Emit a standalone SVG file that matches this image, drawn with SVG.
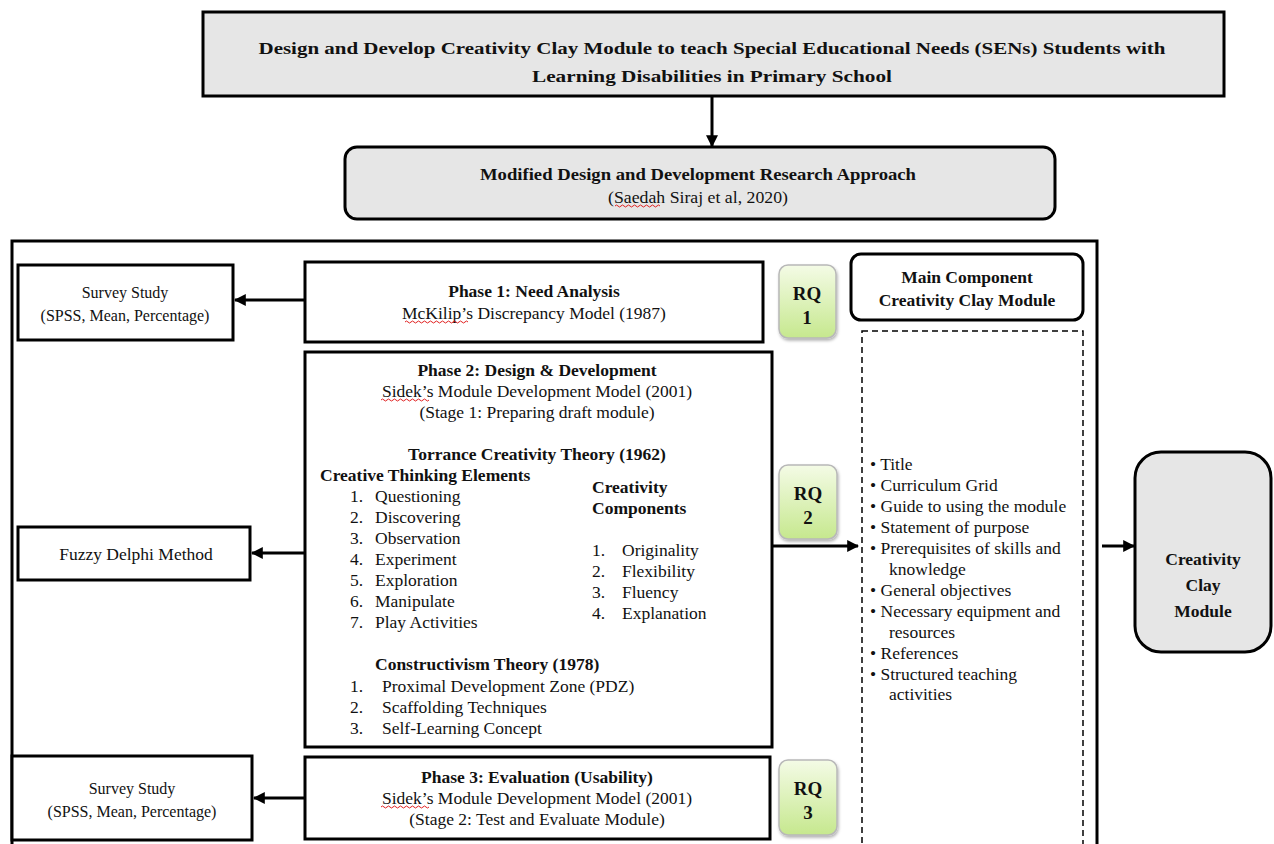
<svg xmlns="http://www.w3.org/2000/svg" width="1274" height="844" viewBox="0 0 1274 844">
<defs>
<style>
text{font-family:"Liberation Serif","Times New Roman",serif;font-size:17.5px;fill:#111}
.b{font-weight:bold}
.c{text-anchor:middle}
.s{font-size:16px}
.box{fill:#fff;stroke:#000;stroke-width:3}
.gbox{fill:#e6e6e6;stroke:#000;stroke-width:3}
.rq{fill:url(#gr);stroke:#b8b8b8;stroke-width:1.5;filter:url(#sh)}
.rqt{font-size:19px;font-weight:bold;text-anchor:middle}
.ln{stroke:#000;stroke-width:3;fill:none}
.wavy{stroke:#e02020;stroke-width:1;fill:none}
</style>
<linearGradient id="gr" x1="0" y1="0" x2="0" y2="1">
<stop offset="0" stop-color="#f4fbe6"/>
<stop offset="1" stop-color="#c6e88e"/>
</linearGradient>
<filter id="sh" x="-20%" y="-20%" width="150%" height="150%">
<feDropShadow dx="1" dy="2" stdDeviation="1.5" flood-color="#000" flood-opacity="0.3"/>
</filter>
<marker id="ah" viewBox="0 0 10 10" refX="9" refY="5" markerWidth="4" markerHeight="4" orient="auto-start-reverse" markerUnits="strokeWidth">
<path d="M0,0 L10,5 L0,10 z" fill="#000"/>
</marker>
</defs>
<rect width="1274" height="844" fill="#fff"/>

<g id="title">
<rect class="gbox" x="203" y="12" width="1021" height="84" stroke-width="4"/>
<text class="b c" x="712" y="54" font-size="21" textLength="907" lengthAdjust="spacingAndGlyphs">Design and Develop Creativity Clay Module to teach Special Educational Needs (SENs) Students with</text>
<text class="b c" x="712" y="82" font-size="21" textLength="360" lengthAdjust="spacingAndGlyphs">Learning Disabilities in Primary School</text>
</g>

<g id="approach">
<rect class="gbox" x="345" y="147" width="710" height="72" rx="12"/>
<text class="b c" x="698" y="180" font-size="17.5" textLength="436" lengthAdjust="spacingAndGlyphs">Modified Design and Development Research Approach</text>
<text class="c" x="698" y="203" font-size="17" textLength="180" lengthAdjust="spacingAndGlyphs">(Saedah Siraj et al, 2020)</text>
<path class="wavy" d="M615,206 q1.5,-2 3,0 t3,0 t3,0 t3,0 t3,0 t3,0 t3,0 t3,0 t3,0 t3,0 t3,0 t3,0 t3,0 t3,0 t3,0"/>
</g>

<g id="frame">
<rect x="12" y="241" width="1085" height="620" fill="none" stroke="#000" stroke-width="3"/>
</g>

<g id="survey1">
<rect class="box" x="18" y="265" width="215" height="75"/>
<text class="c s" x="125" y="298">Survey Study</text>
<text class="c s" x="125" y="321">(SPSS, Mean, Percentage)</text>
</g>

<g id="phase1">
<rect class="box" x="305" y="262" width="458" height="80"/>
<text class="b c" x="534" y="297">Phase 1: Need Analysis</text>
<text class="c" x="534" y="319">McKilip’s Discrepancy Model (1987)</text>
<path class="wavy" d="M405,322 q1.5,-2 3,0 t3,0 t3,0 t3,0 t3,0 t3,0 t3,0 t3,0 t3,0 t3,0 t3,0 t3,0 t3,0 t3,0 t3,0 t3,0 t3,0 t3,0 t3,0 t3,0 t3,0"/>
</g>

<g id="rq1">
<rect class="rq" x="779" y="265" width="57" height="73" rx="9"/>
<text class="rqt" x="807" y="300">RQ</text>
<text class="rqt" x="807" y="324">1</text>
</g>

<g id="maincomp">
<rect class="box" x="851" y="254" width="232" height="66" rx="10"/>
<text class="b c" x="967" y="283" font-size="18">Main Component</text>
<text class="b c" x="967" y="306" font-size="18">Creativity Clay Module</text>
</g>

<g id="components">
<rect x="862" y="331" width="221" height="530" fill="none" stroke="#000" stroke-width="1.5" stroke-dasharray="6,4"/>
<text x="870" y="470">• Title</text>
<text x="870" y="491">• Curriculum Grid</text>
<text x="870" y="512">• Guide to using the module</text>
<text x="870" y="533">• Statement of purpose</text>
<text x="870" y="554">• Prerequisites of skills and</text>
<text x="889" y="575">knowledge</text>
<text x="870" y="596">• General objectives</text>
<text x="870" y="617">• Necessary equipment and</text>
<text x="889" y="638">resources</text>
<text x="870" y="659">• References</text>
<text x="870" y="680">• Structured teaching</text>
<text x="889" y="700">activities</text>
</g>

<g id="phase2">
<rect class="box" x="305" y="352" width="467" height="395"/>
<text class="b c" x="537" y="376">Phase 2: Design &amp; Development</text>
<text class="c" x="537" y="397">Sidek’s Module Development Model (2001)</text>
<path class="wavy" d="M381,400 q1.5,-2 3,0 t3,0 t3,0 t3,0 t3,0 t3,0 t3,0 t3,0 t3,0 t3,0 t3,0 t3,0 t3,0 t3,0 t3,0 t3,0"/>
<text class="c" x="537" y="418">(Stage 1: Preparing draft module)</text>
<text class="b c" x="537" y="460">Torrance Creativity Theory (1962)</text>
<text class="b" x="320" y="481">Creative Thinking Elements</text>
<text x="350" y="502">1.</text><text x="375" y="502">Questioning</text>
<text x="350" y="523">2.</text><text x="375" y="523">Discovering</text>
<text x="350" y="544">3.</text><text x="375" y="544">Observation</text>
<text x="350" y="565">4.</text><text x="375" y="565">Experiment</text>
<text x="350" y="586">5.</text><text x="375" y="586">Exploration</text>
<text x="350" y="607">6.</text><text x="375" y="607">Manipulate</text>
<text x="350" y="628">7.</text><text x="375" y="628">Play Activities</text>
<text class="b" x="592" y="493">Creativity</text>
<text class="b" x="592" y="514">Components</text>
<text x="592" y="556">1.</text><text x="622" y="556">Originality</text>
<text x="592" y="577">2.</text><text x="622" y="577">Flexibility</text>
<text x="592" y="598">3.</text><text x="622" y="598">Fluency</text>
<text x="592" y="619">4.</text><text x="622" y="619">Explanation</text>
<text class="b" x="375" y="670">Constructivism Theory (1978)</text>
<text x="350" y="692">1.</text><text x="382" y="692">Proximal Development Zone (PDZ)</text>
<text x="350" y="713">2.</text><text x="382" y="713">Scaffolding Techniques</text>
<text x="350" y="734">3.</text><text x="382" y="734">Self-Learning Concept</text>
</g>

<g id="fuzzy">
<rect class="box" x="18" y="527" width="232" height="53"/>
<text class="c" x="136" y="560" font-size="17">Fuzzy Delphi Method</text>
</g>

<g id="rq2">
<rect class="rq" x="779" y="465" width="58" height="74" rx="9"/>
<text class="rqt" x="808" y="500">RQ</text>
<text class="rqt" x="808" y="524">2</text>
</g>

<g id="output">
<rect class="gbox" x="1135" y="452" width="136" height="200" rx="26"/>
<text class="b c" x="1203" y="565" font-size="25">Creativity</text>
<text class="b c" x="1203" y="591" font-size="25">Clay</text>
<text class="b c" x="1203" y="617" font-size="25">Module</text>
</g>

<g id="survey3">
<rect class="box" x="12" y="756" width="240" height="84"/>
<text class="c s" x="132" y="794">Survey Study</text>
<text class="c s" x="132" y="817">(SPSS, Mean, Percentage)</text>
</g>

<g id="phase3">
<rect class="box" x="305" y="757" width="465" height="82"/>
<text class="b c" x="537" y="783">Phase 3: Evaluation (Usability)</text>
<text class="c" x="537" y="804">Sidek’s Module Development Model (2001)</text>
<path class="wavy" d="M381,807 q1.5,-2 3,0 t3,0 t3,0 t3,0 t3,0 t3,0 t3,0 t3,0 t3,0 t3,0 t3,0 t3,0 t3,0 t3,0 t3,0 t3,0"/>
<text class="c" x="537" y="825">(Stage 2: Test and Evaluate Module)</text>
</g>

<g id="rq3">
<rect class="rq" x="779" y="760" width="58" height="75" rx="9"/>
<text class="rqt" x="808" y="795">RQ</text>
<text class="rqt" x="808" y="819">3</text>
</g>

<g id="connectors">
<line class="ln" x1="712" y1="96" x2="712" y2="146" marker-end="url(#ah)"/>
<line class="ln" x1="305" y1="300" x2="235" y2="300" marker-end="url(#ah)"/>
<line class="ln" x1="305" y1="553" x2="252" y2="553" marker-end="url(#ah)"/>
<line class="ln" x1="772" y1="546" x2="858" y2="546" marker-end="url(#ah)"/>
<line class="ln" x1="1102" y1="546" x2="1134" y2="546" marker-end="url(#ah)"/>
<line class="ln" x1="305" y1="798" x2="254" y2="798" marker-end="url(#ah)"/>
</g>
</svg>
